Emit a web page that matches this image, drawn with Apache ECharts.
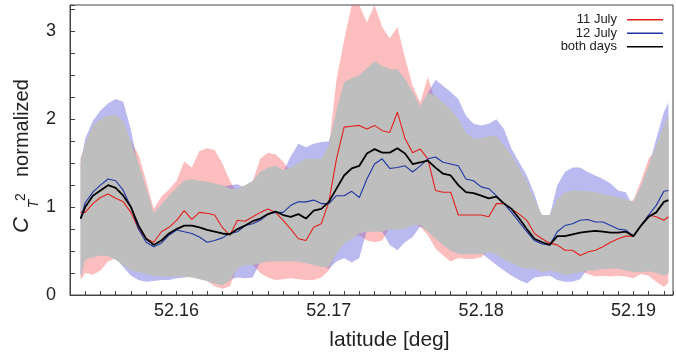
<!DOCTYPE html>
<html>
<head>
<meta charset="utf-8">
<script src="https://cdn.jsdelivr.net/npm/echarts@6/dist/echarts.min.js"></script>
<style>
  html, body { margin: 0; padding: 0; background: #fff; }
  #chart { width: 676px; height: 356px; }
</style>
</head>
<body>
<div id="chart"></div>
<script>
// sample latitudes (deg)
var lat = [52.1537, 52.1540, 52.1545, 52.1550, 52.1555, 52.1560, 52.1565, 52.1570, 52.1575, 52.1580,
  52.1585, 52.1590, 52.1595, 52.1600, 52.1605, 52.1610, 52.1615, 52.1620, 52.1625, 52.1630,
  52.1635, 52.1640, 52.1645, 52.1650, 52.1655, 52.1660, 52.1665, 52.1670, 52.1675, 52.1680,
  52.1685, 52.1690, 52.1695, 52.1700, 52.1705, 52.1710, 52.1715, 52.1720, 52.1725, 52.1730,
  52.1735, 52.1740, 52.1745, 52.1750, 52.1755, 52.1760, 52.1765, 52.1770, 52.1775, 52.1780,
  52.1785, 52.1790, 52.1795, 52.1800, 52.1805, 52.1810, 52.1815, 52.1820, 52.1825, 52.1830,
  52.1835, 52.1840, 52.1845, 52.1850, 52.1855, 52.1860, 52.1865, 52.1870, 52.1875, 52.1880,
  52.1885, 52.1890, 52.1895, 52.1900, 52.1905, 52.1910, 52.1915, 52.1920, 52.1923];

// CT2 normalized, mean lines
var july11 = [0.94, 0.94, 1.04, 1.11, 1.15, 1.10, 1.06, 0.94, 0.75, 0.64,
  0.60, 0.72, 0.77, 0.85, 0.96, 0.86, 0.94, 0.93, 0.91, 0.77,
  0.68, 0.85, 0.84, 0.89, 0.94, 0.98, 0.94, 0.85, 0.75, 0.64,
  0.62, 0.77, 0.81, 1.06, 1.55, 1.91, 1.92, 1.93, 1.89, 1.93,
  1.87, 1.85, 2.08, 1.78, 1.62, 1.66, 1.55, 1.19, 1.17, 1.17,
  0.91, 0.91, 0.91, 0.91, 0.89, 1.04, 1.04, 0.98, 0.92, 0.85,
  0.70, 0.64, 0.59, 0.57, 0.51, 0.51, 0.45, 0.49, 0.51, 0.55,
  0.60, 0.64, 0.67, 0.67, 0.79, 0.91, 0.89, 0.85, 0.89];
var july12 = [0.87, 1.05, 1.17, 1.25, 1.32, 1.30, 1.19, 1.00, 0.75, 0.60,
  0.55, 0.59, 0.68, 0.74, 0.72, 0.70, 0.66, 0.60, 0.62, 0.65,
  0.70, 0.72, 0.79, 0.81, 0.85, 0.92, 0.94, 0.94, 1.02, 1.06,
  1.06, 1.08, 1.04, 1.04, 1.13, 1.13, 1.18, 1.11, 1.32, 1.49,
  1.55, 1.44, 1.45, 1.47, 1.40, 1.47, 1.55, 1.57, 1.51, 1.49,
  1.47, 1.32, 1.30, 1.23, 1.21, 1.13, 1.04, 0.94, 0.83, 0.72,
  0.62, 0.58, 0.57, 0.72, 0.79, 0.81, 0.85, 0.86, 0.83, 0.83,
  0.79, 0.75, 0.74, 0.67, 0.79, 0.91, 1.02, 1.18, 1.19];
var bothDays = [0.87, 1.00, 1.13, 1.19, 1.25, 1.22, 1.13, 1.00, 0.79, 0.64,
  0.57, 0.62, 0.70, 0.75, 0.79, 0.79, 0.77, 0.74, 0.72, 0.70,
  0.69, 0.75, 0.79, 0.84, 0.87, 0.92, 0.95, 0.91, 0.89, 0.92,
  0.87, 0.96, 0.98, 1.06, 1.21, 1.36, 1.44, 1.47, 1.61, 1.66,
  1.62, 1.62, 1.67, 1.61, 1.49, 1.51, 1.53, 1.45, 1.38, 1.36,
  1.25, 1.17, 1.16, 1.13, 1.10, 1.12, 1.04, 0.98, 0.87, 0.75,
  0.64, 0.60, 0.57, 0.67, 0.67, 0.69, 0.71, 0.72, 0.73, 0.72,
  0.71, 0.71, 0.72, 0.67, 0.79, 0.89, 0.94, 1.06, 1.08];

// spread bands (lower / upper)
var july11Low = [0.17, 0.25, 0.23, 0.28, 0.38, 0.42, 0.36, 0.30, 0.28, 0.26,
  0.24, 0.23, 0.23, 0.23, 0.23, 0.22, 0.20, 0.16, 0.10, 0.07,
  0.10, 0.32, 0.36, 0.34, 0.25, 0.20, 0.17, 0.18, 0.19, 0.18,
  0.17, 0.17, 0.20, 0.28, 0.49, 0.60, 0.66, 0.68, 0.62, 0.60,
  0.62, 0.77, 0.76, 0.78, 0.81, 0.78, 0.68, 0.53, 0.45, 0.38,
  0.42, 0.41, 0.41, 0.43, 0.51, 0.48, 0.42, 0.38, 0.34, 0.32,
  0.32, 0.28, 0.30, 0.28, 0.25, 0.26, 0.28, 0.24, 0.21, 0.22,
  0.21, 0.22, 0.21, 0.19, 0.24, 0.22, 0.15, 0.09, 0.14];
var july11High = [1.57, 1.68, 1.80, 1.85, 1.90, 1.90, 1.85, 1.75, 1.60, 1.30,
  0.98, 1.12, 1.20, 1.30, 1.52, 1.45, 1.64, 1.67, 1.65, 1.50,
  1.30, 1.15, 1.20, 1.30, 1.55, 1.62, 1.60, 1.52, 1.40, 1.45,
  1.50, 1.50, 1.50, 1.68, 2.45, 2.90, 3.40, 3.40, 3.10, 3.35,
  3.05, 2.92, 3.05, 2.70, 2.38, 2.19, 2.48, 2.20, 2.10, 2.05,
  1.95, 1.80, 1.72, 1.72, 1.75, 1.75, 1.65, 1.55, 1.40, 1.25,
  1.05, 0.87, 0.87, 1.05, 1.12, 1.14, 1.14, 1.13, 1.12, 1.10,
  1.08, 1.06, 1.04, 1.08, 1.30, 1.55, 1.65, 1.85, 1.95];
var july12Low = [0.22, 0.42, 0.45, 0.47, 0.46, 0.42, 0.32, 0.22, 0.17, 0.15,
  0.16, 0.17, 0.17, 0.19, 0.20, 0.21, 0.20, 0.18, 0.15, 0.13,
  0.18, 0.20, 0.19, 0.20, 0.38, 0.40, 0.40, 0.40, 0.40, 0.40,
  0.38, 0.36, 0.34, 0.30, 0.38, 0.42, 0.37, 0.42, 0.74, 0.74,
  0.72, 0.57, 0.51, 0.60, 0.66, 0.78, 0.74, 0.66, 0.59, 0.52,
  0.49, 0.48, 0.49, 0.48, 0.41, 0.34, 0.28, 0.22, 0.17, 0.13,
  0.20, 0.21, 0.22, 0.17, 0.15, 0.15, 0.18, 0.30, 0.30, 0.32,
  0.32, 0.32, 0.30, 0.28, 0.28, 0.29, 0.27, 0.24, 0.26];
var july12High = [1.50, 1.78, 1.98, 2.10, 2.18, 2.23, 2.20, 1.88, 1.45, 1.18,
  0.90, 0.98, 1.08, 1.18, 1.25, 1.27, 1.25, 1.24, 1.22, 1.23,
  1.25, 1.26, 1.22, 1.25, 1.35, 1.40, 1.42, 1.40, 1.58, 1.72,
  1.68, 1.72, 1.74, 1.75, 2.00, 2.30, 2.35, 2.40, 2.45, 2.50,
  2.55, 2.50, 2.50, 2.40, 2.25, 2.10, 2.30, 2.45, 2.38, 2.31,
  2.23, 2.04, 1.95, 1.93, 1.95, 2.00, 1.89, 1.66, 1.51, 1.36,
  1.15, 0.88, 0.90, 1.25, 1.40, 1.45, 1.45, 1.40, 1.36, 1.32,
  1.27, 1.19, 1.17, 1.00, 1.20, 1.45, 1.78, 2.08, 2.19];
var bothLow = [0.20, 0.40, 0.43, 0.45, 0.44, 0.40, 0.34, 0.28, 0.26, 0.24,
  0.22, 0.21, 0.21, 0.21, 0.21, 0.20, 0.18, 0.16, 0.13, 0.11,
  0.16, 0.30, 0.34, 0.34, 0.36, 0.38, 0.38, 0.38, 0.38, 0.38,
  0.36, 0.34, 0.32, 0.32, 0.47, 0.58, 0.64, 0.70, 0.72, 0.72,
  0.72, 0.75, 0.74, 0.76, 0.79, 0.80, 0.72, 0.64, 0.57, 0.50,
  0.47, 0.46, 0.47, 0.46, 0.49, 0.46, 0.40, 0.36, 0.32, 0.30,
  0.30, 0.26, 0.28, 0.26, 0.23, 0.24, 0.26, 0.28, 0.28, 0.30,
  0.30, 0.30, 0.28, 0.26, 0.26, 0.27, 0.25, 0.22, 0.24];
var bothHigh = [1.55, 1.72, 1.93, 2.00, 2.04, 2.05, 1.98, 1.75, 1.50, 1.22,
  0.93, 1.03, 1.13, 1.22, 1.30, 1.32, 1.30, 1.29, 1.27, 1.25,
  1.21, 1.21, 1.25, 1.30, 1.40, 1.45, 1.47, 1.42, 1.45, 1.50,
  1.55, 1.55, 1.55, 1.70, 2.10, 2.42, 2.47, 2.50, 2.58, 2.66,
  2.61, 2.57, 2.57, 2.46, 2.31, 2.15, 2.30, 2.27, 2.19, 2.12,
  2.00, 1.85, 1.78, 1.78, 1.81, 1.81, 1.70, 1.59, 1.44, 1.30,
  1.09, 0.91, 0.91, 1.09, 1.17, 1.19, 1.19, 1.18, 1.17, 1.15,
  1.13, 1.11, 1.09, 1.06, 1.25, 1.47, 1.70, 1.93, 2.04];

var FONT = '"Liberation Sans", Arial, Helvetica, sans-serif';
var Y_MAX = 3.3;

function pairs(ys) {
    return lat.map(function (x, i) { return [x, ys[i]]; });
}

// one filled polygon per spread band, placed through the axes
function band(low, high, color) {
    return {
        type: 'custom', silent: true, z: 1,
        data: [[lat[0], low[0]]],
        renderItem: function (params, api) {
            var pts = [];
            for (var i = 0; i < lat.length; i++) {
                pts.push(api.coord([lat[i], Math.min(high[i], Y_MAX)]));
            }
            for (var j = lat.length - 1; j >= 0; j--) {
                pts.push(api.coord([lat[j], low[j]]));
            }
            return { type: 'polygon', shape: { points: pts }, style: { fill: color } };
        }
    };
}

function line(name, ys, color, width) {
    return {
        name: name, type: 'line', data: pairs(ys), symbol: 'none', silent: true,
        lineStyle: { color: color, width: width }, itemStyle: { color: color }, z: 5
    };
}

var myChart = echarts.init(document.getElementById('chart'));

myChart.setOption({
    animation: false,
    backgroundColor: '#fff',
    grid: {
        left: 70, right: -2, top: 5, bottom: 60,
        show: true, borderColor: '#444', borderWidth: 1
    },
    legend: {
        data: ['11 July', '12 July', 'both days'],
        orient: 'vertical', align: 'right',
        right: 8, top: 8,
        icon: 'rect', itemWidth: 36, itemHeight: 1.6, itemGap: 0,
        textStyle: { fontFamily: FONT, fontSize: 13, lineHeight: 13.5, color: '#222', padding: [0, 5, 0, 0] }
    },
    xAxis: {
        type: 'value', min: 52.153, max: 52.1926, interval: 0.001,
        name: 'latitude [deg]', nameLocation: 'middle', nameGap: 35,
        nameTextStyle: { fontFamily: FONT, fontSize: 21, color: '#222', padding: [0, 0, 0, 36] },
        axisLine: { show: true, onZero: false, lineStyle: { color: '#444', width: 1 } },
        axisTick: { show: true, inside: true, length: 4, lineStyle: { color: '#444' } },
        splitLine: { show: false },
        axisLabel: {
            fontFamily: FONT, fontSize: 18, color: '#222', margin: 7,
            formatter: function (v) {
                return Math.abs(v * 100 - Math.round(v * 100)) < 1e-6 ? v.toFixed(2) : '';
            }
        }
    },
    yAxis: {
        type: 'value', min: 0, max: Y_MAX, interval: 0.25,
        axisLine: { show: true, lineStyle: { color: '#444', width: 1 } },
        axisTick: { show: true, inside: true, length: 5, lineStyle: { color: '#444' } },
        splitLine: { show: false },
        axisLabel: {
            fontFamily: FONT, fontSize: 18, color: '#222', margin: 14,
            formatter: function (v) {
                return Math.abs(v - Math.round(v)) < 1e-6 ? String(Math.round(v)) : '';
            }
        }
    },
    graphic: [{
        type: 'group', x: 30, y: 233, rotation: Math.PI / 2,
        children: [
            { type: 'text', x: 0, y: -8, style: { text: 'C', font: 'italic 22px ' + FONT, fill: '#222', textAlign: 'left', textVerticalAlign: 'middle', verticalAlign: 'middle' } },
            { type: 'text', x: 29, y: 4, style: { text: 'T', font: 'italic 14px ' + FONT, fill: '#222', textAlign: 'center', textVerticalAlign: 'middle', verticalAlign: 'middle' } },
            { type: 'text', x: 36, y: -9, style: { text: '2', font: '14px ' + FONT, fill: '#222', textAlign: 'center', textVerticalAlign: 'middle', verticalAlign: 'middle' } },
            { type: 'text', x: 56, y: -7.5, style: { text: 'normalized', font: '20px ' + FONT, fill: '#222', textAlign: 'left', textVerticalAlign: 'middle', verticalAlign: 'middle' } }
        ]
    }],
    series: [
        band(july11Low, july11High, 'rgba(245, 90, 90, 0.4)'),
        band(july12Low, july12High, 'rgba(90, 90, 220, 0.42)'),
        band(bothLow, bothHigh, '#bebebe'),
        line('11 July', july11, '#e3211c', 1.1),
        line('12 July', july12, '#1f35a5', 1.1),
        line('both days', bothDays, '#000', 1.8)
    ]
});
</script>
</body>
</html>
